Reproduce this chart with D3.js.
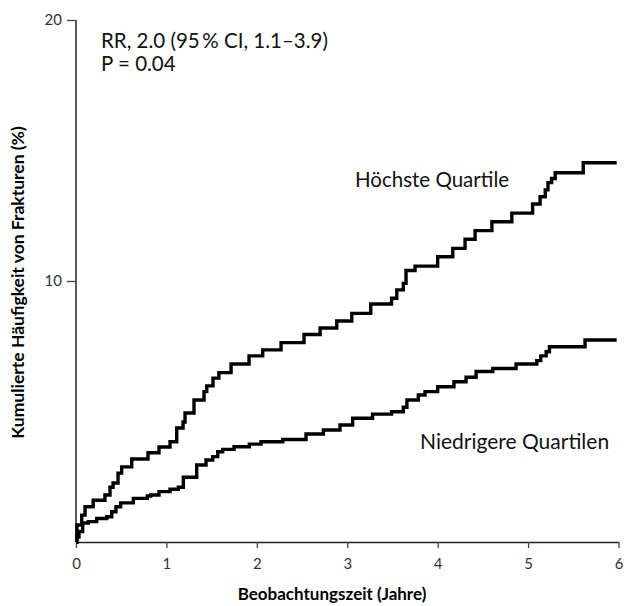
<!DOCTYPE html>
<html>
<head>
<meta charset="utf-8">
<script src="https://cdn.jsdelivr.net/npm/d3@7"></script>
<style>
  body { margin: 0; background: #fff; }
  svg text { font-family: Lato, "Open Sans", sans-serif; }
</style>
</head>
<body>
<svg width="629" height="606"></svg>
<script>
// cumulative incidence, step points [years, percent]
const hoechsteT = [0, 0.01, 0.063, 0.10, 0.19, 0.32, 0.376, 0.41, 0.465, 0.505, 0.616, 0.796, 0.918, 1.04, 1.114, 1.184, 1.206, 1.305, 1.416, 1.446, 1.515, 1.58, 1.715, 1.914, 2.065, 2.268, 2.522, 2.70, 2.884, 3.05, 3.26, 3.49, 3.548, 3.62, 3.65, 3.75, 4.0, 4.167, 4.303, 4.414, 4.6, 4.82, 5.05, 5.133, 5.19, 5.22, 5.26, 5.3, 5.61, 5.98];
const hoechsteV = [0, 0.65, 1.03, 1.35, 1.6, 1.8, 2.1, 2.26, 2.64, 2.88, 3.18, 3.42, 3.64, 3.84, 4.37, 4.6, 4.94, 5.44, 5.76, 5.98, 6.28, 6.49, 6.82, 7.13, 7.36, 7.64, 7.95, 8.2, 8.47, 8.76, 9.12, 9.34, 9.66, 9.91, 10.4, 10.57, 10.93, 11.25, 11.6, 11.93, 12.27, 12.6, 12.95, 13.23, 13.49, 13.77, 13.93, 14.15, 14.53, 14.53];

const niedrigT = [0, 0.01, 0.033, 0.074, 0.136, 0.229, 0.34, 0.395, 0.442, 0.494, 0.634, 0.789, 0.826, 0.918, 1.04, 1.132, 1.187, 1.335, 1.438, 1.512, 1.567, 1.623, 1.748, 1.917, 2.046, 2.287, 2.544, 2.736, 2.92, 3.06, 3.28, 3.49, 3.62, 3.66, 3.786, 3.86, 4.0, 4.18, 4.314, 4.425, 4.61, 4.867, 5.096, 5.14, 5.2, 5.236, 5.63, 5.98];
const niedrigV = [0, 0.19, 0.4, 0.73, 0.78, 0.9, 0.97, 1.16, 1.35, 1.5, 1.67, 1.76, 1.8, 1.93, 2.02, 2.1, 2.48, 2.95, 3.14, 3.27, 3.46, 3.55, 3.65, 3.75, 3.84, 3.93, 4.14, 4.29, 4.48, 4.74, 4.9, 4.99, 5.16, 5.44, 5.63, 5.76, 5.95, 6.14, 6.31, 6.53, 6.65, 6.82, 6.95, 7.13, 7.29, 7.48, 7.74, 7.74];

const xTicks = [0, 1, 2, 3, 4, 5, 6];
const yTicks = [10, 20];

const svg = d3.select("svg");

const x = d3.scaleLinear().domain([0, 6]).range([76, 618.5]);
const y = d3.scaleLinear().domain([0, 20]).range([542, 20]);

// axes
const xAxis = svg.append("g")
  .attr("transform", "translate(0,542)")
  .call(d3.axisBottom(x).tickValues(xTicks).tickFormat(d3.format("d"))
    .tickSize(6).tickPadding(10).tickSizeOuter(0));
const yAxis = svg.append("g")
  .attr("transform", "translate(76,0)")
  .call(d3.axisLeft(y).tickValues(yTicks).tickFormat(d3.format("d"))
    .tickSize(9).tickPadding(5).tickSizeOuter(0));

[xAxis, yAxis].forEach(a => {
  a.select(".domain").attr("stroke", "#222").attr("stroke-width", 1.5);
  a.selectAll(".tick line").attr("stroke", "#444").attr("stroke-width", 1.3);
  a.selectAll(".tick text")
    .attr("fill", "#333")
    .style("font-size", "15px")
    .style("font-family", "Lato, sans-serif");
});
// y axis line runs from 0 to 20
yAxis.select(".domain").attr("d", "M0," + y(0) + "V" + y(20));

// curves
const line = d3.line()
  .x(d => x(d[0]))
  .y(d => y(d[1]))
  .curve(d3.curveStepAfter);

const hoechste = hoechsteT.map((t, i) => [t, hoechsteV[i]]);
const niedrig = niedrigT.map((t, i) => [t, niedrigV[i]]);

[hoechste, niedrig].forEach(s => {
  svg.append("path")
    .datum(s)
    .attr("fill", "none")
    .attr("stroke", "#000")
    .attr("stroke-width", 3.4)
    .attr("stroke-linejoin", "miter")
    .attr("d", line);
});

// annotations
svg.append("text").attr("x", 101).attr("y", 48)
  .style("font-size", "20.5px").attr("fill", "#111")
  .text("RR, 2.0 (95\u2009% CI, 1.1\u20133.9)");
svg.append("text").attr("x", 101).attr("y", 71)
  .style("font-size", "20.5px").attr("fill", "#111")
  .text("P = 0.04");

svg.append("text").attr("x", 355).attr("y", 187)
  .style("font-size", "20.5px").attr("fill", "#111")
  .text("Höchste Quartile");
svg.append("text").attr("x", 420).attr("y", 449)
  .style("font-size", "21px").attr("fill", "#111")
  .text("Niedrigere Quartilen");

// axis titles
svg.append("text")
  .attr("x", 332).attr("y", 600)
  .attr("text-anchor", "middle")
  .style("font-size", "17px").style("font-weight", "bold")
  .text("Beobachtungszeit (Jahre)");
svg.append("text")
  .attr("transform", "translate(24,282.5) rotate(-90)")
  .attr("text-anchor", "middle")
  .style("font-size", "17.5px").style("font-weight", "bold")
  .text("Kumulierte Häufigkeit von Frakturen (%)");
</script>
</body>
</html>
